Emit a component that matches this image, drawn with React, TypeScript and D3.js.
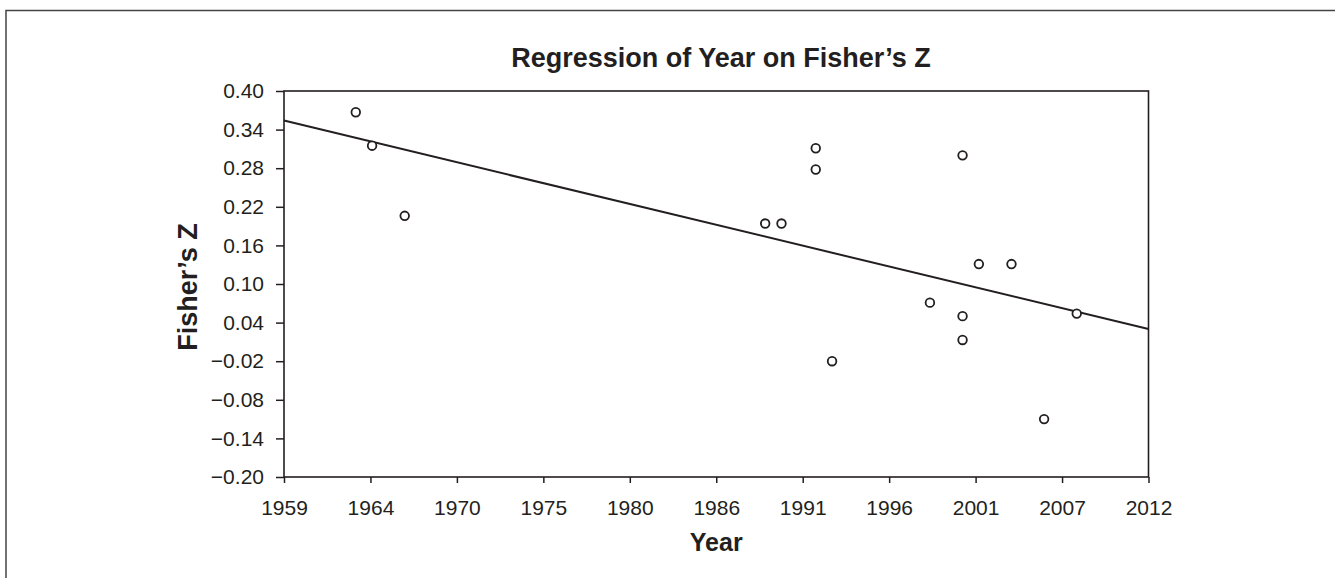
import { useEffect, useRef } from 'react';
import * as d3 from 'd3';

const WIDTH = 1335;
const HEIGHT = 578;
const PLOT = { left: 284, right: 1148.5, top: 91, bottom: 477 };
const FONT = '"Liberation Sans", Arial, Helvetica, sans-serif';
const INK = '#231f20';

// study year and Fisher's Z
const YEARS = [1963.4, 1964.4, 1966.4, 1988.5, 1989.5, 1991.6, 1991.6, 1992.6, 1998.6, 2000.6, 2000.6, 2000.6, 2001.6, 2003.6, 2005.6, 2007.6];
const FISHER_Z = [0.367, 0.315, 0.206, 0.194, 0.194, 0.311, 0.278, -0.02, 0.071, 0.3, 0.05, 0.013, 0.131, 0.131, -0.11, 0.054];

// fitted regression line, at the two ends of the axis
const REG_YEARS = [1959, 2012];
const REG_Z = [0.354, 0.03];

const X_TICKS = [1959, 1964.3, 1969.6, 1974.9, 1980.2, 1985.5, 1990.8, 1996.1, 2001.4, 2006.7, 2012];
const X_TICK_LABELS = ['1959', '1964', '1970', '1975', '1980', '1986', '1991', '1996', '2001', '2007', '2012'];
const Y_TICKS = [-0.2, -0.14, -0.08, -0.02, 0.04, 0.1, 0.16, 0.22, 0.28, 0.34, 0.4];

export default function App() {
  const svgRef = useRef<SVGSVGElement>(null);

  useEffect(() => {
    const svg = d3.select(svgRef.current);
    svg.selectAll('*').remove();

    const x = d3.scaleLinear().domain([1959, 2012]).range([PLOT.left, PLOT.right]);
    const y = d3.scaleLinear().domain([-0.2, 0.4]).range([PLOT.bottom, PLOT.top]);

    // outer frame (left and top only)
    svg.append('path')
      .attr('d', `M6,${HEIGHT} V10.5 H${WIDTH}`)
      .attr('fill', 'none')
      .attr('stroke', '#444')
      .attr('stroke-width', 1.5);

    // plot box
    svg.append('rect')
      .attr('x', PLOT.left)
      .attr('y', PLOT.top)
      .attr('width', PLOT.right - PLOT.left)
      .attr('height', PLOT.bottom - PLOT.top)
      .attr('fill', 'none')
      .attr('stroke', INK)
      .attr('stroke-width', 1.6);

    // axes
    const yAxis = svg.append('g')
      .attr('transform', `translate(${PLOT.left},0)`)
      .call(
        d3.axisLeft(y)
          .tickValues(Y_TICKS)
          .tickSize(8)
          .tickPadding(12)
          .tickFormat((d) => d3.format('.2f')(d as number).replace('-', '\u2013'))
      );
    const xAxis = svg.append('g')
      .attr('transform', `translate(0,${PLOT.bottom})`)
      .call(
        d3.axisBottom(x)
          .tickValues(X_TICKS)
          .tickSize(6)
          .tickPadding(17)
          .tickFormat((_d, i) => X_TICK_LABELS[i])
      );
    [xAxis, yAxis].forEach((ax) => {
      ax.select('.domain').remove();
      ax.selectAll('.tick line').attr('stroke', INK).attr('stroke-width', 1.5);
      ax.selectAll('.tick text')
        .attr('fill', INK)
        .style('font-family', FONT)
        .style('font-size', '21px');
    });

    // regression line
    const line = d3.line<number>()
      .x((d) => x(d))
      .y((_d, i) => y(REG_Z[i]));
    svg.append('path')
      .attr('d', line(REG_YEARS))
      .attr('fill', 'none')
      .attr('stroke', INK)
      .attr('stroke-width', 2);

    // points
    svg.append('g')
      .selectAll('circle')
      .data(YEARS)
      .join('circle')
      .attr('cx', (d) => x(d))
      .attr('cy', (_d, i) => y(FISHER_Z[i]))
      .attr('r', 4.3)
      .attr('fill', '#fff')
      .attr('stroke', INK)
      .attr('stroke-width', 1.8);

    // titles
    svg.append('text')
      .attr('x', 721)
      .attr('y', 67)
      .attr('text-anchor', 'middle')
      .attr('fill', INK)
      .style('font-family', FONT)
      .style('font-weight', 'bold')
      .style('font-size', '27px')
      .text('Regression of Year on Fisher\u2019s Z');

    svg.append('text')
      .attr('x', (PLOT.left + PLOT.right) / 2)
      .attr('y', 551)
      .attr('text-anchor', 'middle')
      .attr('fill', INK)
      .style('font-family', FONT)
      .style('font-weight', 'bold')
      .style('font-size', '25px')
      .text('Year');

    svg.append('text')
      .attr('transform', `translate(197,287) rotate(-90)`)
      .attr('text-anchor', 'middle')
      .attr('fill', INK)
      .style('font-family', FONT)
      .style('font-weight', 'bold')
      .style('font-size', '27px')
      .text('Fisher\u2019s Z');
  }, []);

  return (
    <svg
      ref={svgRef}
      width={WIDTH}
      height={HEIGHT}
      style={{ position: 'absolute', left: 0, top: 0, background: '#fff' }}
    />
  );
}
